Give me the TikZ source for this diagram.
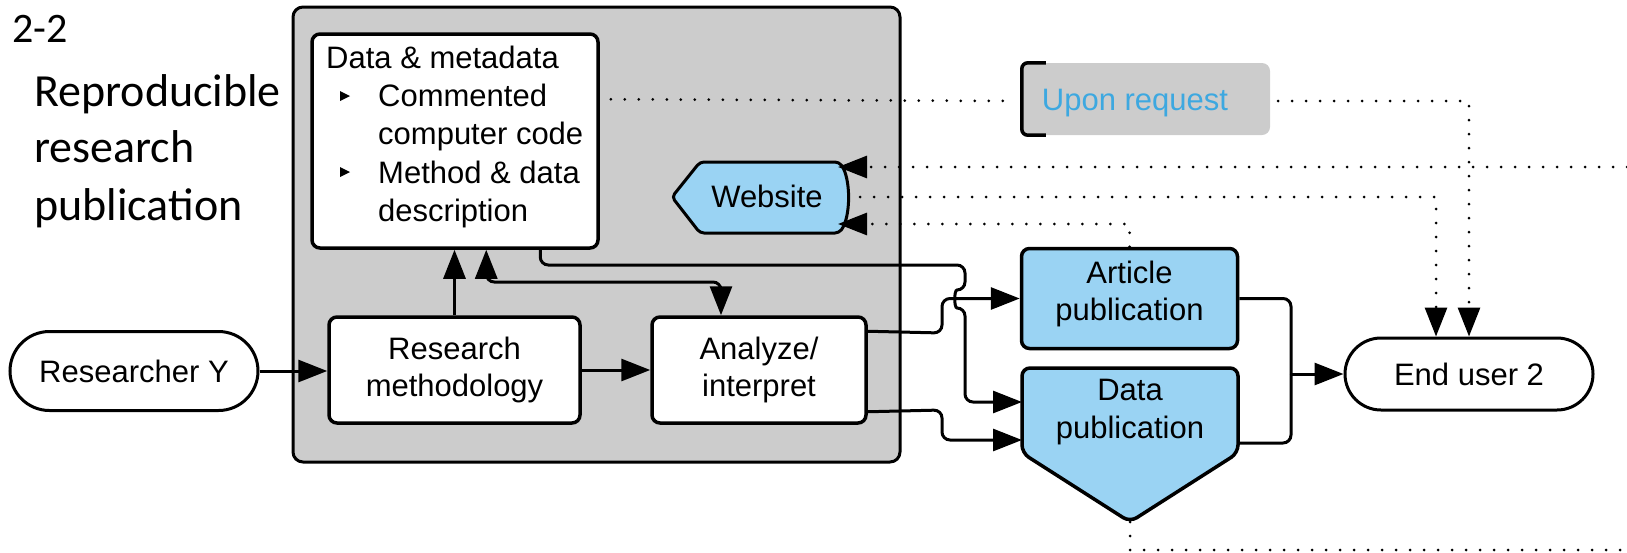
\documentclass[tikz,border=0pt]{standalone}
\usepackage{fontspec}
\setmainfont{Liberation Sans}
\newfontfamily\calfont{Carlito}
\usetikzlibrary{arrows.meta,shapes.misc,calc}
\definecolor{boxgray}{HTML}{CCCCCC}
\definecolor{pubblue}{HTML}{9AD3F3}
\definecolor{reqblue}{HTML}{3DA8E0}
\tikzset{
 lbl/.style={font=\fontsize{31}{37.5}\selectfont, align=center, inner sep=0pt},
 wbox/.style={draw, line width=3.5pt, rounded corners=8pt, fill=white, inner sep=0pt},
 term/.style={draw, line width=3pt, rounded rectangle, fill=white, inner sep=0pt, font=\fontsize{31}{37.5}\selectfont},
 conn/.style={line width=3pt, rounded corners=8pt},
 tip/.style={-{Triangle[length=29pt,width=22pt]}},
 dbl/.style={{Triangle[length=29pt,width=22pt]}-{Triangle[length=29pt,width=22pt]}},
 dots/.style={line width=3pt, line cap=round, dash pattern=on 0pt off 14pt},
 title/.style={anchor=base west, inner sep=0pt, font=\calfont\fontsize{46}{57}\selectfont},
}
\begin{document}
\begin{tikzpicture}[x=1pt,y=-1pt]
\useasboundingbox (0,0) rectangle (1627,552);

% left title
\node[title, font=\calfont\fontsize{42}{50}\selectfont] (num) at (12,42) {2-2};
\node[title] (ti1) at (34,106) {Reproducible};
\node[title] (ti2) at (34,162) {research};
\node[title] (ti3) at (34,220) {publication};

% gray container
\node[draw, line width=3pt, fill=boxgray, rounded corners=10pt, minimum width=607pt, minimum height=455pt, inner sep=0pt] (gbox) at (596.5,234.5) {};

% data & metadata box
\node[wbox, minimum width=286pt, minimum height=214pt] (data) at (455,141) {};
\node[lbl, anchor=base west] (dm0) at (326,68) {Data \& metadata};
\node[lbl, anchor=base west] (dm1) at (378,106) {Commented};
\node[lbl, anchor=base west] (dm2) at (378,144) {computer code};
\node[lbl, anchor=base west] (dm3) at (378,183) {Method \& data};
\node[lbl, anchor=base west] (dm4) at (378,221) {description};
\fill (340,91) -- (350,96) -- (340,101) -- cycle;
\fill (340,167) -- (350,172) -- (340,177) -- cycle;

% website
\filldraw[fill=pubblue, line width=3pt, rounded corners=4pt] (672,197) -- (700,162) -- (839,162) .. controls (851,178) and (851,217) .. (839,233) -- (700,233) -- cycle;
\node[lbl] (web) at (767,196) {Website};
\coordinate (w1) at (838,167);
\coordinate (w2) at (838,224);

% upon request
\node[fill=boxgray, rounded corners=8pt, minimum width=248pt, minimum height=72pt, inner sep=0pt] (upon) at (1146,99) {};
\node[lbl, text=reqblue, anchor=base] (upontxt) at (1135,110) {Upon request};
\draw[line width=3.5pt, rounded corners=6pt] ($(upon.north west)+(24,0)$) -- (upon.north west) -- (upon.south west) -- ++(24,0);

% process nodes
\node[term, minimum width=248pt, minimum height=79pt] (ry) at (134,371) {Researcher Y};
\node[wbox, lbl, minimum width=251pt, minimum height=106pt] (rm) at (454.5,370) {Research\\methodology};
\node[wbox, lbl, minimum width=214pt, minimum height=106pt] (an) at (759,370) {Analyze/\\interpret};

% publications
\node[wbox, fill=pubblue, minimum width=216pt, minimum height=100pt] (art) at (1129.5,298.5) {};
\node[lbl] (artt) at (1129.5,294) {Article\\publication};
\filldraw[fill=pubblue, line width=3.5pt, rounded corners=8pt] (1022,368) -- (1238,368) -- (1238,453) -- (1130,522) -- (1022,453) -- cycle;
\node[lbl, minimum width=216pt, minimum height=85pt] (dp) at (1130,412) {Data\\publication};

\node[term, minimum width=248pt, minimum height=72pt] (eu) at (1469,374) {End user 2};

% solid connectors
\draw[conn, tip] (ry.east) -- (ry.east -| rm.west);
\draw[conn, tip] (rm.east) -- (an.west);
\draw[conn, tip] (rm.north) -- (rm.north |- data.south);
\coordinate (bend) at (721,282);
\draw[conn, dbl] ($(data.south west)+(176,0)$) |- (bend) -- (bend |- an.north);
\coordinate (hop) at (965,265);
\draw[conn, tip] ($(data.south west)+(230,0)$) |- (hop) -- (965,290) .. controls (954,290) and (954,308) .. (965,308) |- (1022,402);
\draw[conn, tip] ($(an.north east)+(0,16)$) -- (942,333) |- (art.west);
\draw[conn, tip] ($(an.south east)+(0,-13)$) -- (942,410) |- (1022,440);
\coordinate (jn) at (1291,374);
\draw[conn] (art.east) -| (jn);
\draw[conn] (1238,443) -| (jn);
\draw[conn, tip] (jn) -- (eu.west);

% dotted connectors
\draw[dots] ($(data.north east)+(11,67)$) -- ($(upon.west)+(-11,2)$);
\draw[dots, tip] ($(upon.east)+(8,2)$) -| (eu.north);
\draw[dots, tip] (1627,167) -- (w1);
\draw[dots, tip] (860,197) -| ($(eu.north)+(-33,0)$);
\draw[dots, tip] (art.north) |- (w2);
\draw[dots] (1130,522) |- (1627,550);
\end{tikzpicture}
\end{document}
